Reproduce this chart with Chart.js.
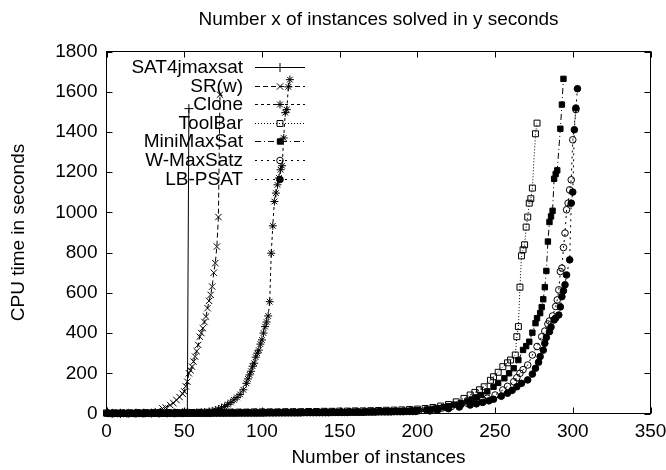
<!DOCTYPE html>
<html>
<head>
<meta charset="utf-8">
<script src="https://cdn.jsdelivr.net/npm/chart.js@4.4.0/dist/chart.umd.min.js"></script>
<style>
  html, body { margin: 0; padding: 0; background: #fff; }
  #wrap { width: 666px; height: 470px; }
</style>
</head>
<body>
<div id="wrap"><canvas id="chart" width="666" height="470"></canvas></div>
<script>
// Values: x = number of instances, y = CPU seconds
const chartTitle = 'Number x of instances solved in y seconds';
const seriesNames = ['SAT4jmaxsat', 'SR(w)', 'Clone', 'ToolBar', 'MiniMaxSat', 'W-MaxSatz', 'LB-PSAT'];
const xTicks = [0, 50, 100, 150, 200, 250, 300, 350];
const yTicks = [0, 200, 400, 600, 800, 1000, 1200, 1400, 1600, 1800];

const sat4jX = [4, 9, 14, 19, 24, 29, 34, 39, 44, 49, 52, 53];
const sat4jY = [1, 1, 1, 2, 2, 2, 2, 3, 3, 4, 5, 1516];

const srwX = [2, 7, 12, 17, 22, 27, 31, 33, 36, 38, 41, 43, 45, 47, 49,
  50, 51, 52, 53, 54, 55, 56, 57, 58, 59, 60, 61, 62, 63, 64, 65, 66, 67, 68, 69, 70, 71, 72, 73];
const srwY = [1, 1, 2, 2, 3, 4, 6, 12, 25, 30, 42, 52, 67, 82, 98,
  110, 135, 158, 200, 215, 233, 258, 283, 310, 341, 382, 400, 424, 455, 482, 524, 560, 590, 631, 700, 748, 830, 977, 1585];

const cloneX = [3, 8, 13, 18, 23, 28, 33, 38, 43, 48, 53, 58, 61,
  63, 66, 68, 70, 72, 74, 76, 78, 80, 82, 84, 86, 88, 90,
  91, 92, 93, 94, 95, 96, 97, 98, 99, 100, 101, 102, 103, 104, 105, 106, 107, 108, 109, 110, 111, 112, 113, 114, 115, 116, 117, 118];
const cloneY = [1, 1, 1, 1, 2, 2, 2, 3, 3, 3, 4, 5, 6,
  7, 10, 13, 17, 22, 28, 35, 45, 55, 68, 80, 95, 118, 150,
  172, 192, 210, 235, 250, 280, 300, 315, 345, 366, 400, 432, 455, 485, 556, 797, 933, 1054, 1096, 1137, 1171, 1212, 1232, 1370, 1496, 1511, 1624, 1660];

const toolbarX = [0, 5, 10, 15, 20, 25, 30, 35, 40, 45, 50, 55, 60, 65, 70, 75, 80, 85, 90, 95,
  100, 105, 110, 115, 120, 125, 130, 135, 140, 145, 150, 155, 160, 165, 170, 175, 180, 185, 190, 195,
  200, 205, 210, 215, 220, 225, 230, 234, 237, 240, 243, 247, 249, 252, 255, 258, 260, 263,
  264, 265, 266, 267, 268, 269, 270, 271, 272, 273, 274, 276, 277];
const toolbarY = [3, 3, 3, 3, 4, 4, 4, 4, 5, 5, 5, 5, 6, 6, 6, 6, 7, 7, 7, 8,
  8, 8, 8, 9, 9, 9, 10, 10, 11, 11, 12, 12, 13, 13, 14, 15, 16, 17, 18, 20,
  22, 25, 30, 37, 45, 58, 75, 92, 105, 118, 133, 165, 183, 205, 233, 252, 266, 291,
  382, 432, 628, 784, 814, 839, 927, 977, 1046, 1068, 1121, 1391, 1444];

const minimaxX = [0, 2, 4, 6, 8, 10, 12, 14, 16, 18, 20, 22, 24, 26, 28, 30, 32, 34, 36, 38, 40,
  42, 44, 46, 48, 50, 52, 54, 56, 58, 60, 62, 64, 66, 68, 70, 72, 74, 76, 78, 80,
  82, 84, 86, 88, 90, 92, 94, 96, 98, 100, 102, 104, 106, 108, 110, 112, 114, 116, 118, 120,
  122, 124, 126, 128, 130, 132, 134, 136, 138, 140, 142, 144, 146, 148, 150, 152, 154, 156, 158, 160,
  162, 164, 166, 168, 170, 172, 174, 176, 178, 180, 182, 184, 186, 188, 190, 192, 194, 196, 198, 200,
  206, 210, 213, 217, 220, 224, 228, 232, 235, 238, 241, 245, 249, 252, 256, 259, 262, 265, 268, 270,
  272, 274, 276, 277, 279, 280, 281, 282, 283, 284, 285, 286, 287, 288, 289, 290, 292, 293, 294];
const minimaxY = [0, 0, 0, 0, 0, 0, 0, 0, 0, 0, 1, 1, 1, 1, 1, 1, 1, 1, 1, 1, 1,
  1, 1, 1, 1, 1, 1, 2, 2, 2, 2, 2, 2, 2, 2, 2, 2, 2, 2, 2, 2,
  2, 2, 3, 3, 3, 3, 3, 3, 3, 3, 3, 3, 3, 3, 4, 4, 4, 4, 4, 4,
  4, 4, 4, 4, 5, 5, 5, 5, 5, 5, 5, 5, 6, 6, 6, 6, 6, 7, 7, 7,
  7, 7, 7, 8, 8, 8, 9, 9, 9, 10, 10, 11, 11, 11, 12, 12, 13, 14, 15, 16,
  19, 23, 26, 31, 37, 44, 51, 60, 70, 80, 92, 110, 133, 152, 175, 200, 225, 266, 316, 335,
  357, 402, 449, 474, 499, 529, 568, 628, 709, 855, 952, 980, 1008, 1167, 1191, 1209, 1416, 1536, 1664];

const wmaxX = [1, 6, 11, 16, 21, 26, 31, 36, 41, 46, 51, 56, 61, 66, 71, 76, 81, 86, 91, 96,
  101, 106, 111, 116, 121, 126, 131, 136, 141, 146, 151, 156, 161, 166, 171, 176, 181, 186, 191, 196, 201,
  206, 211, 216, 222, 228, 232, 238, 242, 245, 250, 255, 258, 262, 264, 266, 268, 271, 274, 277, 280,
  282, 284, 285, 287, 289, 290, 291, 292, 293, 294, 295, 296, 297, 298, 299, 300, 302];
const wmaxY = [2, 2, 2, 2, 3, 3, 3, 3, 3, 4, 4, 4, 4, 4, 5, 5, 5, 5, 5, 6,
  6, 6, 6, 6, 7, 7, 7, 7, 8, 8, 8, 9, 9, 10, 10, 11, 11, 12, 12, 13, 14,
  18, 22, 27, 35, 44, 51, 62, 70, 76, 92, 117, 135, 158, 178, 200, 218, 241, 291, 333, 382,
  410, 445, 460, 485, 532, 565, 615, 706, 723, 825, 897, 1013, 1046, 1112, 1162, 1361, 1511];

const lbpsatX = [1, 3, 5, 7, 9, 11, 13, 15, 17, 19, 21, 23, 25, 27, 29, 31, 33, 35, 37, 39,
  41, 43, 45, 47, 49, 51, 53, 55, 57, 59, 61, 63, 65, 67, 69, 71, 73, 75, 77, 79,
  81, 83, 85, 87, 89, 91, 93, 95, 97, 99, 101, 103, 105, 107, 109, 111, 113, 115, 117, 119,
  121, 123, 125, 127, 129, 131, 133, 135, 137, 139, 141, 143, 145, 147, 149, 151, 153, 155, 157, 159,
  161, 163, 165, 167, 169, 171, 173, 175, 177, 179, 181, 183, 185, 187, 189, 191, 193, 195, 197, 199,
  208, 213, 220, 227, 234, 238, 242, 246, 249, 254, 258, 261, 264, 267, 271, 274, 276, 278, 279, 281,
  282, 283, 285, 286, 288, 289, 291, 292, 293, 294, 295, 296, 298, 299, 300, 301, 302, 303];
const lbpsatY = [0, 0, 0, 0, 0, 0, 0, 0, 0, 0, 0, 0, 0, 1, 1, 1, 1, 1, 1, 1,
  1, 1, 1, 1, 1, 1, 1, 1, 1, 1, 1, 1, 1, 1, 2, 2, 2, 2, 2, 2,
  2, 2, 2, 2, 2, 2, 2, 2, 2, 2, 2, 3, 3, 3, 3, 3, 3, 3, 3, 3,
  3, 3, 3, 4, 4, 4, 4, 4, 4, 4, 4, 4, 5, 5, 5, 5, 5, 5, 6, 6,
  6, 6, 6, 7, 7, 7, 7, 8, 8, 8, 8, 8, 9, 9, 9, 9, 10, 10, 10, 10,
  13, 17, 24, 32, 42, 48, 55, 63, 71, 86, 101, 115, 133, 150, 167, 196, 225, 255, 283, 315,
  349, 378, 407, 430, 465, 475, 490, 530, 581, 610, 640, 689, 764, 1046, 1101, 1411, 1519, 1615];

const FONT_FAMILY = '"Liberation Sans", Arial, sans-serif';
const FONT_SIZE = 19;
const FONT_CSS = FONT_SIZE + 'px ' + FONT_FAMILY;

const toPoints = (xs, ys) => xs.map((v, i) => ({ x: v, y: ys[i] }));

const makeSet = (label, xs, ys, style, radius, filled, dash) => ({
    label: label,
    data: toPoints(xs, ys),
    showLine: true,
    clip: false,
    borderColor: '#000',
    borderWidth: 1,
    borderDash: dash,
    pointStyle: style,
    pointRadius: radius,
    pointHoverRadius: radius,
    pointBorderWidth: 1,
    pointBorderColor: '#000',
    pointBackgroundColor: filled ? '#000' : 'rgba(0,0,0,0)'
});

const datasets = [
    makeSet(seriesNames[0], sat4jX, sat4jY, 'cross', 4.5, false, []),
    makeSet(seriesNames[1], srwX, srwY, 'crossRot', 4.5, false, [5, 3]),
    makeSet(seriesNames[2], cloneX, cloneY, 'star', 4, false, [3, 3]),
    makeSet(seriesNames[3], toolbarX, toolbarY, 'rect', 4.2, false, [1, 2]),
    makeSet(seriesNames[4], minimaxX, minimaxY, 'rect', 3.8, true, [6, 3, 1, 3]),
    makeSet(seriesNames[5], wmaxX, wmaxY, 'circle', 3.3, false, [2, 4]),
    makeSet(seriesNames[6], lbpsatX, lbpsatY, 'circle', 3.3, true, [2, 4])
];

// gnuplot-like frame, inward ticks, title and key
const frameAndKey = {
    id: 'frameAndKey',
    afterDatasetsDraw (chart) {
        const { ctx, chartArea: a, scales } = chart;
        ctx.save();
        ctx.strokeStyle = '#000';
        ctx.fillStyle = '#000';
        ctx.lineWidth = 1;
        ctx.setLineDash([]);
        ctx.strokeRect(a.left, a.top, a.right - a.left, a.bottom - a.top);

        ctx.beginPath();
        scales.x.ticks.forEach((t) => {
            const px = Math.round(scales.x.getPixelForValue(t.value)) + 0.5;
            ctx.moveTo(px, a.bottom); ctx.lineTo(px, a.bottom - 6);
            ctx.moveTo(px, a.top); ctx.lineTo(px, a.top + 6);
        });
        scales.y.ticks.forEach((t) => {
            const py = Math.round(scales.y.getPixelForValue(t.value)) + 0.5;
            ctx.moveTo(a.left, py); ctx.lineTo(a.left + 6, py);
            ctx.moveTo(a.right, py); ctx.lineTo(a.right - 6, py);
        });
        ctx.stroke();

        ctx.font = FONT_CSS;
        ctx.textAlign = 'center';
        ctx.textBaseline = 'middle';
        ctx.fillText(chartTitle, (a.left + a.right) / 2, 20);

        // Key in the top-left corner
        const drawPoint = Chart.helpers && Chart.helpers.drawPoint;
        chart.data.datasets.forEach((ds, i) => {
            const ky = Math.round(67 + i * 18.6) + 0.5;
            ctx.textAlign = 'right';
            ctx.fillStyle = '#000';
            ctx.fillText(ds.label, 243, ky);
            ctx.setLineDash(ds.borderDash);
            ctx.beginPath();
            ctx.moveTo(255, ky);
            ctx.lineTo(305, ky);
            ctx.stroke();
            ctx.setLineDash([]);
            if (drawPoint) {
                ctx.fillStyle = ds.pointBackgroundColor;
                ctx.strokeStyle = '#000';
                drawPoint(ctx, { pointStyle: ds.pointStyle, radius: ds.pointRadius, rotation: 0, borderWidth: 1 }, 280, ky);
            }
        });
        ctx.restore();
    }
};

const tickFont = { family: FONT_FAMILY, size: FONT_SIZE };

new Chart(document.getElementById('chart'), {
    type: 'scatter',
    data: { datasets: datasets },
    options: {
        responsive: false,
        animation: false,
        devicePixelRatio: 1,
        layout: { padding: { top: 51.5, right: 15.5, left: 0, bottom: 0 } },
        plugins: {
            legend: { display: false },
            title: { display: false },
            tooltip: { enabled: false }
        },
        scales: {
            x: {
                type: 'linear',
                min: 0,
                max: 350,
                afterBuildTicks: (s) => { s.ticks = xTicks.map((v) => ({ value: v })); },
                afterFit: (s) => { s.height = 56.5; s.paddingLeft = 0; s.paddingRight = 0; },
                grid: { display: false, drawTicks: false },
                border: { display: false },
                ticks: { color: '#000', font: tickFont, padding: 7, maxRotation: 0, callback: (v) => String(v) },
                title: { display: true, text: 'Number of instances', color: '#000', font: tickFont, padding: { top: 0, bottom: 1 } }
            },
            y: {
                type: 'linear',
                min: 0,
                max: 1800,
                afterBuildTicks: (s) => { s.ticks = yTicks.map((v) => ({ value: v })); },
                afterFit: (s) => { s.width = 106.5; s.paddingTop = 0; s.paddingBottom = 0; },
                grid: { display: false, drawTicks: false },
                border: { display: false },
                ticks: { color: '#000', font: tickFont, padding: 9, callback: (v) => String(v) },
                title: { display: true, text: 'CPU time in seconds', color: '#000', font: tickFont, padding: { top: 7, bottom: 0 } }
            }
        }
    },
    plugins: [frameAndKey]
});
</script>
</body>
</html>
